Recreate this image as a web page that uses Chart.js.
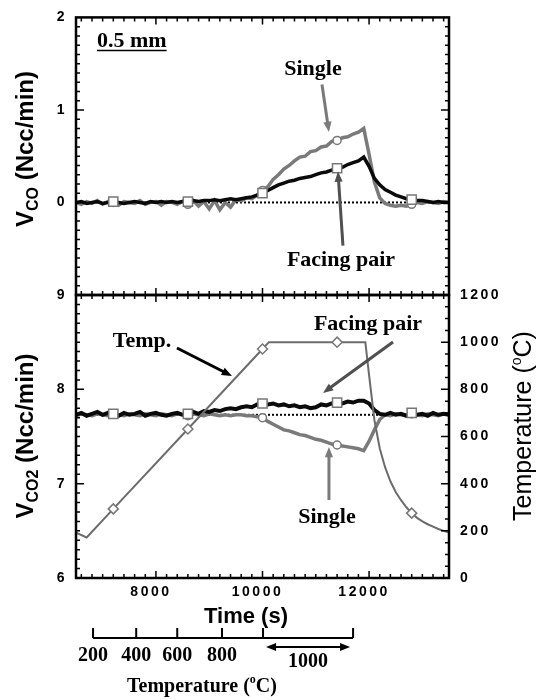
<!DOCTYPE html>
<html>
<head>
<meta charset="utf-8">
<script src="https://cdn.jsdelivr.net/npm/chart.js@4.4.0/dist/chart.umd.min.js"></script>
<style>
  html, body { margin: 0; padding: 0; background: #fff; }
  #wrap { position: relative; width: 542px; height: 700px; }
  #wrap canvas { position: absolute; left: 0; top: 0; }
</style>
</head>
<body>
<div id="wrap">
  <canvas id="co-chart" width="542" height="700"></canvas>
  <canvas id="co2-chart" width="542" height="700"></canvas>
</div>
<script>
// sampling times (s)
const times = [6500, 6600, 6700, 6800, 6900, 7000, 7100, 7200, 7300, 7400, 7500, 7600, 7700, 7800, 7900,
  8000, 8100, 8200, 8300, 8400, 8500, 8600, 8700, 8800, 8900, 9000, 9100, 9200, 9300, 9400, 9500,
  9600, 9700, 9800, 9900, 10000, 10100, 10200, 10300, 10400, 10500, 10600, 10700, 10800, 10900, 11000,
  11100, 11200, 11300, 11400, 11500, 11600, 11700, 11800, 11900, 12000, 12100, 12200, 12300, 12400,
  12500, 12600, 12700, 12800, 12900, 13000, 13100, 13200, 13300, 13400, 13500];

// V_CO (Ncc/min)
const coSingle = [0.00, -0.02, 0.01, -0.01, 0.02, -0.02, 0.01, 0.00, -0.03, 0.01, 0.00, -0.01, 0.02, -0.02, 0.00,
  0.01, -0.03, 0.01, 0.00, -0.02, 0.01, -0.02, 0.02, -0.04, 0.01, -0.07, 0.02, -0.08, 0.00, -0.05, 0.03,
  0.02, 0.05, 0.04, 0.08, 0.13, 0.17, 0.25, 0.30, 0.36, 0.40, 0.45, 0.49, 0.50, 0.55, 0.56,
  0.60, 0.61, 0.66, 0.67, 0.70, 0.71, 0.74, 0.76, 0.80, 0.52, 0.22, 0.05, -0.01, -0.03,
  -0.04, -0.03, -0.04, -0.02, 0.00, -0.01, 0.01, 0.00, -0.01, 0.01, 0.00];
const coFacing = [0.00, 0.01, -0.01, 0.00, 0.01, -0.01, 0.00, 0.01, 0.00, -0.01, 0.00, 0.01, 0.00, -0.01, 0.01,
  0.00, 0.01, 0.00, 0.01, 0.00, 0.01, 0.01, 0.02, 0.01, 0.02, 0.02, 0.03, 0.02, 0.03, 0.04, 0.03,
  0.04, 0.05, 0.06, 0.08, 0.10, 0.13, 0.16, 0.19, 0.21, 0.23, 0.24, 0.26, 0.27, 0.28, 0.30,
  0.32, 0.33, 0.35, 0.37, 0.38, 0.41, 0.43, 0.45, 0.49, 0.39, 0.26, 0.19, 0.14, 0.11,
  0.08, 0.06, 0.04, 0.03, 0.02, 0.02, 0.01, 0.00, 0.01, 0.00, 0.00];

// V_CO2 (Ncc/min)
const co2Single = [7.72, 7.74, 7.73, 7.72, 7.74, 7.73, 7.72, 7.74, 7.73, 7.72, 7.74, 7.73, 7.72, 7.74, 7.73,
  7.72, 7.74, 7.73, 7.72, 7.74, 7.73, 7.72, 7.74, 7.73, 7.72, 7.74, 7.73, 7.72, 7.73, 7.72, 7.73,
  7.73, 7.72, 7.72, 7.71, 7.70, 7.66, 7.63, 7.60, 7.57, 7.56, 7.54, 7.52, 7.51, 7.49, 7.47,
  7.46, 7.44, 7.42, 7.41, 7.40, 7.39, 7.38, 7.37, 7.35, 7.45, 7.57, 7.68, 7.73, 7.72,
  7.74, 7.73, 7.72, 7.74, 7.73, 7.72, 7.74, 7.73, 7.72, 7.74, 7.73];
const co2Facing = [7.73, 7.75, 7.72, 7.74, 7.76, 7.73, 7.75, 7.74, 7.72, 7.75, 7.73, 7.74, 7.76, 7.72, 7.74,
  7.75, 7.73, 7.72, 7.74, 7.75, 7.73, 7.74, 7.76, 7.74, 7.77, 7.76, 7.78, 7.77, 7.79, 7.80, 7.79,
  7.81, 7.82, 7.81, 7.84, 7.85, 7.84, 7.85, 7.83, 7.84, 7.82, 7.83, 7.81, 7.82, 7.80, 7.81,
  7.84, 7.83, 7.85, 7.86, 7.85, 7.87, 7.86, 7.88, 7.88, 7.85, 7.78, 7.74, 7.73, 7.75,
  7.73, 7.74, 7.72, 7.75, 7.73, 7.74, 7.72, 7.75, 7.73, 7.74, 7.73];

// furnace temperature (°C)
const tempTimes = [6500, 6700, 7200, 8600, 10000, 10120, 11400, 11930, 12000, 12100, 12200, 12300,
  12400, 12500, 12600, 12700, 12800, 12900, 13000, 13100, 13200, 13300, 13400, 13500];
const tempValues = [192, 172, 293, 632, 971, 1000, 1000, 1000, 860, 670, 550, 470,
  410, 365, 330, 300, 275, 255, 240, 228, 218, 208, 200, 193];

const markerTimes = [7200, 8600, 10000, 11400, 12800];
const coBaseline = 0;
const co2Baseline = 7.73;

const timeTicks = [8000, 10000, 12000];
const coTicks = [0, 1, 2];
const co2Ticks = [6, 7, 8, 9];
const tempTicks = [0, 200, 400, 600, 800, 1000, 1200];

// temperature reached along the time axis
const rampLabels = ['200', '400', '600', '800'];
const rampTimes = [6820, 7630, 8400, 9240];
const holdTimes = [10010, 11700];
const holdLabel = '1000';

const coNotes = [
  { text: 'Single', t: 10947, v: 1.456 },
  { text: 'Facing pair', t: 11473, v: -0.610 }
];
const coArrows = [
  { from: [11116, 1.274], to: [11247, 0.762], color: '#7a7a7a' },
  { from: [11510, -0.466], to: [11416, 0.335], color: '#505050' }
];
const co2Notes = [
  { text: 'Temp.', t: 7739, v: 8.518 },
  { text: 'Facing pair', t: 11980, v: 8.698 },
  { text: 'Single', t: 11210, v: 6.652 }
];
const co2Arrows = [
  { from: [8395, 8.438], to: [9427, 8.141], color: '#000' },
  { from: [12449, 8.502], to: [11135, 7.961], color: '#505050' },
  { from: [11247, 6.827], to: [11247, 7.389], color: '#7a7a7a' }
];

const tickFont = { family: '"Liberation Sans", Arial, sans-serif', size: 14, weight: 'bold' };
const serif = '"Liberation Serif", "Times New Roman", serif';
const sans = '"Liberation Sans", Arial, sans-serif';

const pts = (xs, ys) => xs.map((x, i) => ({ x: x, y: ys[i] }));
const markAt = (xs, r) => (c) => markerTimes.includes(xs[c.dataIndex]) ? r : 0;
const fixTicks = (vals) => (s) => { s.ticks = vals.map(v => ({ value: v })); };

function arrow(ctx, x1, y1, x2, y2, color) {
  const ang = Math.atan2(y2 - y1, x2 - x1);
  const head = 11;
  ctx.save();
  ctx.strokeStyle = color;
  ctx.fillStyle = color;
  ctx.lineWidth = 3;
  ctx.beginPath();
  ctx.moveTo(x1, y1);
  ctx.lineTo(x2 - Math.cos(ang) * head * 0.8, y2 - Math.sin(ang) * head * 0.8);
  ctx.stroke();
  ctx.beginPath();
  ctx.moveTo(x2, y2);
  ctx.lineTo(x2 - head * Math.cos(ang - 0.38), y2 - head * Math.sin(ang - 0.38));
  ctx.lineTo(x2 - head * Math.cos(ang + 0.38), y2 - head * Math.sin(ang + 0.38));
  ctx.closePath();
  ctx.fill();
  ctx.restore();
}

// pieces of text laid along a rotated line, with sub/superscripts
function rotatedTitle(ctx, cx, cy, pieces) {
  ctx.save();
  ctx.translate(cx, cy);
  ctx.rotate(-Math.PI / 2);
  ctx.letterSpacing = '0px';
  ctx.fillStyle = '#000';
  ctx.textAlign = 'left';
  ctx.textBaseline = 'alphabetic';
  let total = 0;
  pieces.forEach(p => { ctx.font = p.font; p.w = ctx.measureText(p.text).width; total += p.w; });
  let x = -total / 2;
  pieces.forEach(p => { ctx.font = p.font; ctx.fillText(p.text, x, p.dy); x += p.w; });
  ctx.restore();
}

function drawNotes(chart, notes, arrows, yId) {
  const { ctx, scales } = chart;
  const xs = scales.x, ys = scales[yId];
  ctx.save();
  ctx.letterSpacing = '0px';
  ctx.fillStyle = '#000';
  ctx.font = 'bold 22px ' + serif;
  ctx.textAlign = 'center';
  ctx.textBaseline = 'alphabetic';
  notes.forEach(n => ctx.fillText(n.text, xs.getPixelForValue(n.t), ys.getPixelForValue(n.v) + 7));
  ctx.restore();
  arrows.forEach(a => arrow(ctx,
    xs.getPixelForValue(a.from[0]), ys.getPixelForValue(a.from[1]),
    xs.getPixelForValue(a.to[0]), ys.getPixelForValue(a.to[1]), a.color));
}

// closed frame with inward tick marks on all four sides
const frameTicks = {
  id: 'frameTicks',
  beforeDraw(chart) {
    chart.ctx.letterSpacing = '2.5px';
  },
  afterDraw(chart, args, opts) {
    const { ctx, chartArea: a, scales } = chart;
    const isMajor = (v, m) => Math.abs(v / m - Math.round(v / m)) < 1e-6;
    ctx.save();
    ctx.strokeStyle = '#000';
    ctx.lineWidth = 1.5;
    ctx.beginPath();
    const xs = scales.x;
    for (let k = 0; 6600 + k * 200 < xs.max; k++) {
      const v = 6600 + k * 200;
      const px = xs.getPixelForValue(v);
      const len = isMajor(v, 2000) ? 7 : 4;
      ctx.moveTo(px, a.top); ctx.lineTo(px, a.top + len);
      ctx.moveTo(px, a.bottom); ctx.lineTo(px, a.bottom - len);
    }
    [['left', opts.left], ['right', opts.right]].forEach(([side, ax]) => {
      const s = scales[ax.id];
      const edge = side === 'left' ? a.left : a.right;
      const dir = side === 'left' ? 1 : -1;
      for (let k = 1; s.min + k * ax.step < s.max - 1e-9; k++) {
        const v = s.min + k * ax.step;
        const py = s.getPixelForValue(v);
        const len = isMajor(v, ax.major) ? 8 : 4;
        ctx.moveTo(edge, py); ctx.lineTo(edge + dir * len, py);
      }
    });
    ctx.stroke();
    ctx.lineWidth = 2.5;
    ctx.strokeRect(a.left, a.top, a.right - a.left, a.bottom - a.top);
    ctx.restore();
  }
};

const coTitle = {
  id: 'coTitle',
  afterDraw(chart) {
    const { ctx, scales } = chart;
    rotatedTitle(ctx, 24, 149, [
      { text: 'V', font: 'bold 24px ' + sans, dy: 8.5 },
      { text: 'CO', font: 'bold 16px ' + sans, dy: 14 },
      { text: ' (Ncc/min)', font: 'bold 24px ' + sans, dy: 8.5 }
    ]);
    ctx.save();
    ctx.letterSpacing = '0px';
    ctx.fillStyle = '#000';
    ctx.strokeStyle = '#000';
    ctx.font = 'bold 22px ' + serif;
    ctx.textAlign = 'left';
    ctx.textBaseline = 'alphabetic';
    const x0 = scales.x.getPixelForValue(6894);
    const y0 = scales.y.getPixelForValue(1.760) + 7;
    const w = ctx.measureText('0.5 mm').width;
    ctx.fillText('0.5 mm', x0, y0);
    ctx.lineWidth = 1.5;
    ctx.beginPath();
    ctx.moveTo(x0, y0 + 4);
    ctx.lineTo(x0 + w, y0 + 4);
    ctx.stroke();
    ctx.restore();
    drawNotes(chart, coNotes, coArrows, 'y');
  }
};

const co2Title = {
  id: 'co2Title',
  afterDraw(chart) {
    const { ctx, scales } = chart;
    rotatedTitle(ctx, 24, 436, [
      { text: 'V', font: 'bold 24px ' + sans, dy: 8.5 },
      { text: 'CO2', font: 'bold 16px ' + sans, dy: 14 },
      { text: ' (Ncc/min)', font: 'bold 24px ' + sans, dy: 8.5 }
    ]);
    rotatedTitle(ctx, 522, 426, [
      { text: 'Temperature (', font: '25px ' + sans, dy: 9 },
      { text: 'o', font: '14px ' + sans, dy: -1 },
      { text: 'C)', font: '25px ' + sans, dy: 9 }
    ]);
    drawNotes(chart, co2Notes, co2Arrows, 'y');

    const xs = scales.x;
    ctx.save();
    ctx.letterSpacing = '0px';
    ctx.fillStyle = '#000';
    ctx.strokeStyle = '#000';
    ctx.textAlign = 'center';
    ctx.textBaseline = 'alphabetic';
    ctx.font = 'bold 22px ' + sans;
    ctx.fillText('Time (s)', 246, 623);

    // temperature scale laid against time
    const barY = 638;
    const ends = [rampTimes[0], holdTimes[1]].map(t => xs.getPixelForValue(t));
    ctx.lineWidth = 2;
    ctx.beginPath();
    ctx.moveTo(ends[0], barY);
    ctx.lineTo(ends[1], barY);
    rampTimes.concat(holdTimes).forEach(t => {
      const px = xs.getPixelForValue(t);
      ctx.moveTo(px, barY);
      ctx.lineTo(px, barY - 10);
    });
    ctx.stroke();
    ctx.font = 'bold 20px ' + serif;
    rampLabels.forEach((lab, i) => ctx.fillText(lab, xs.getPixelForValue(rampTimes[i]), 661));
    const h0 = xs.getPixelForValue(holdTimes[0]) + 3;
    const h1 = xs.getPixelForValue(holdTimes[1]) - 3;
    ctx.lineWidth = 2;
    ctx.beginPath();
    ctx.moveTo(h0 + 6, 647);
    ctx.lineTo(h1 - 6, 647);
    ctx.stroke();
    [[h0, 1], [h1, -1]].forEach(([hx, d]) => {
      ctx.beginPath();
      ctx.moveTo(hx, 647);
      ctx.lineTo(hx + d * 10, 643);
      ctx.lineTo(hx + d * 10, 651);
      ctx.closePath();
      ctx.fill();
    });
    ctx.fillText(holdLabel, (h0 + h1) / 2, 667);

    ctx.textAlign = 'left';
    const parts = [['Temperature (', 'bold 20px ' + serif, 0], ['o', 'bold 12px ' + serif, -9], ['C)', 'bold 20px ' + serif, 0]];
    let total = 0;
    parts.forEach(p => { ctx.font = p[1]; p.w = ctx.measureText(p[0]).width; total += p.w; });
    let x = 202 - total / 2;
    parts.forEach(p => { ctx.font = p[1]; ctx.fillText(p[0], x, 692 + p[2]); x += p.w; });
    ctx.restore();
  }
};

const common = {
  responsive: false,
  devicePixelRatio: 1,
  animation: false,
  events: [],
  plugins: { legend: { display: false }, tooltip: { enabled: false } },
  elements: { line: { tension: 0 } }
};
const noGrid = { display: false, drawTicks: false };

new Chart(document.getElementById('co-chart'), {
  type: 'line',
  data: {
    datasets: [
      {
        data: pts(times, coFacing), borderColor: '#0a0a0a', borderWidth: 3.5,
        pointStyle: 'rect', pointRadius: markAt(times, 6.5), pointBorderColor: '#777',
        pointBackgroundColor: '#fff', pointBorderWidth: 1.5
      },
      {
        data: pts(times, coSingle), borderColor: '#7a7a7a', borderWidth: 3.5,
        pointStyle: 'circle', pointRadius: markAt(times, 4), pointBorderColor: '#777',
        pointBackgroundColor: '#fff', pointBorderWidth: 1.5
      },
      {
        data: pts([6500, 13500], [coBaseline, coBaseline]), borderColor: '#000',
        borderWidth: 2, borderDash: [2, 2], pointRadius: 0
      }
    ]
  },
  options: Object.assign({}, common, {
    layout: { padding: { top: 14, right: 93, bottom: 405, left: 0 } },
    plugins: Object.assign({}, common.plugins, {
      frameTicks: { left: { id: 'y', step: 0.1, major: 1 }, right: { id: 'y', step: 0.1, major: 1 } }
    }),
    scales: {
      x: { type: 'linear', min: 6500, max: 13500, display: false },
      y: {
        min: -1, max: 2,
        afterBuildTicks: fixTicks(coTicks),
        afterFit: (s) => { s.width = 76; },
        grid: noGrid, border: { display: false },
        ticks: { font: tickFont, color: '#000', padding: 9, callback: (v) => String(v) }
      }
    }
  }),
  plugins: [frameTicks, coTitle]
});

new Chart(document.getElementById('co2-chart'), {
  type: 'line',
  data: {
    datasets: [
      {
        data: pts(tempTimes, tempValues), yAxisID: 'yT', borderColor: '#6c6c6c', borderWidth: 2,
        pointStyle: 'rectRot', pointRadius: markAt(tempTimes, 5), pointBorderColor: '#777',
        pointBackgroundColor: '#fff', pointBorderWidth: 1.5
      },
      {
        data: pts(times, co2Facing), yAxisID: 'y', borderColor: '#0a0a0a', borderWidth: 4,
        pointStyle: 'rect', pointRadius: markAt(times, 6.5), pointBorderColor: '#777',
        pointBackgroundColor: '#fff', pointBorderWidth: 1.5
      },
      {
        data: pts(times, co2Single), yAxisID: 'y', borderColor: '#7a7a7a', borderWidth: 3.5,
        pointStyle: 'circle', pointRadius: markAt(times, 4), pointBorderColor: '#777',
        pointBackgroundColor: '#fff', pointBorderWidth: 1.5
      },
      {
        data: pts([6500, 13500], [co2Baseline, co2Baseline]), yAxisID: 'y', borderColor: '#000',
        borderWidth: 2, borderDash: [2, 2], pointRadius: 0
      }
    ]
  },
  options: Object.assign({}, common, {
    layout: { padding: { top: 295, right: 0, bottom: 0, left: 0 } },
    plugins: Object.assign({}, common.plugins, {
      frameTicks: { left: { id: 'y', step: 0.1, major: 1 }, right: { id: 'yT', step: 50, major: 200 } }
    }),
    scales: {
      x: {
        type: 'linear', min: 6500, max: 13500,
        afterBuildTicks: fixTicks(timeTicks),
        afterFit: (s) => { s.height = 122; },
        grid: noGrid, border: { display: false },
        ticks: { font: tickFont, color: '#000', padding: 6, labelOffset: -5, maxRotation: 0, callback: (v) => String(v) }
      },
      y: {
        position: 'left', min: 6, max: 9,
        afterBuildTicks: fixTicks(co2Ticks),
        afterFit: (s) => { s.width = 76; },
        grid: noGrid, border: { display: false },
        ticks: { font: tickFont, color: '#000', padding: 9, callback: (v) => String(v) }
      },
      yT: {
        position: 'right', min: 0, max: 1200,
        afterBuildTicks: fixTicks(tempTicks),
        afterFit: (s) => { s.width = 93; },
        grid: noGrid, border: { display: false },
        ticks: { font: tickFont, color: '#000', padding: 11, callback: (v) => String(v) }
      }
    }
  }),
  plugins: [frameTicks, co2Title]
});
</script>
</body>
</html>
